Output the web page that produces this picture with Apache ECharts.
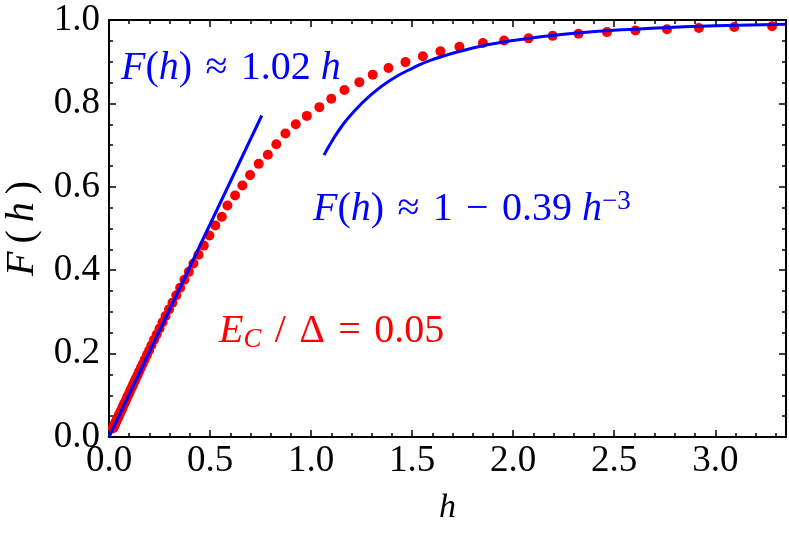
<!DOCTYPE html>
<html>
<head>
<meta charset="utf-8">
<script src="https://cdn.jsdelivr.net/npm/echarts@6/dist/echarts.min.js"></script>
<style>
  html, body { margin: 0; padding: 0; background: #fff; }
  #chart { width: 789px; height: 539px; }
</style>
</head>
<body>
<div id="chart"></div>
<script>
// red dots: E_C / Δ = 0.05
const hDots = [
  0.020, 0.021, 0.022, 0.024, 0.025, 0.027, 0.028, 0.030, 0.032, 0.034,
  0.036, 0.038, 0.040, 0.042, 0.045, 0.047, 0.050, 0.053, 0.056, 0.060,
  0.063, 0.067, 0.071, 0.075, 0.079, 0.084, 0.089, 0.094, 0.100, 0.106,
  0.112, 0.119, 0.126, 0.133, 0.141, 0.149, 0.158, 0.167, 0.177, 0.188,
  0.199, 0.210, 0.223, 0.236, 0.250, 0.265, 0.280, 0.297, 0.314, 0.333,
  0.352, 0.373, 0.395, 0.418, 0.443, 0.469, 0.497, 0.526,
  0.558, 0.586, 0.624, 0.660, 0.698, 0.741, 0.786, 0.828, 0.873, 0.924,
  0.979, 1.041, 1.100, 1.165, 1.239, 1.305, 1.383, 1.467, 1.553, 1.640,
  1.734, 1.850, 1.955, 2.076, 2.195, 2.323, 2.464, 2.605, 2.761, 2.919,
  3.094, 3.281
];
const fDots = [
  0.021, 0.022, 0.023, 0.025, 0.026, 0.028, 0.030, 0.032, 0.034, 0.036,
  0.038, 0.040, 0.042, 0.044, 0.047, 0.050, 0.053, 0.056, 0.059, 0.063,
  0.066, 0.071, 0.075, 0.079, 0.083, 0.088, 0.094, 0.099, 0.105, 0.112,
  0.118, 0.125, 0.133, 0.140, 0.148, 0.157, 0.166, 0.175, 0.186, 0.197,
  0.208, 0.220, 0.233, 0.246, 0.260, 0.275, 0.290, 0.306, 0.322, 0.340,
  0.358, 0.377, 0.396, 0.416, 0.437, 0.459, 0.483, 0.507,
  0.528, 0.555, 0.579, 0.603, 0.628, 0.655, 0.677, 0.702, 0.728, 0.750,
  0.770, 0.791, 0.811, 0.832, 0.851, 0.869, 0.885, 0.899, 0.913, 0.925,
  0.936, 0.945, 0.951, 0.956, 0.962, 0.967, 0.971, 0.975, 0.978, 0.981,
  0.983, 0.985
];

// blue fits
const hLinear = [0, 0.756];
const fLinear = [0, 0.771];
const hTail = [1.064, 1.1, 1.15, 1.2, 1.3, 1.4, 1.5, 1.6, 1.8, 2.0, 2.3, 2.6, 3.0, 3.35];
const fTail = [0.676, 0.707, 0.744, 0.774, 0.822, 0.858, 0.884, 0.905, 0.933, 0.951, 0.968, 0.978, 0.986, 0.990];

const X_MAX = 3.35;
const X_MAJOR = 0.5, X_MINOR = 0.1;
const Y_MAJOR = 0.2;

const SERIF = 'Liberation Serif';
const RED = '#ff0000', BLUE = '#0000ff';
const SP = '\u2004'; // slightly wider gap around operators, like the original

const zip = (xs, ys) => xs.map((x, i) => [x, ys[i]]);

function xAxis(pos, step, len, withLabel) {
  return {
    type: 'value', gridIndex: 0, position: pos,
    min: 0, max: X_MAX, interval: step,
    axisLine: { show: true, onZero: false, lineStyle: { color: '#000', width: 2 } },
    axisTick: { show: true, inside: true, length: len, lineStyle: { color: '#000', width: 1.5 } },
    axisLabel: {
      show: withLabel, margin: 6, showMaxLabel: false,
      color: '#000', fontFamily: SERIF, fontSize: 37,
      formatter: (v) => v.toFixed(1),
    },
    splitLine: { show: false },
  };
}

function yAxis(pos, withLabel) {
  return {
    type: 'value', position: pos,
    min: 0, max: 1, interval: Y_MAJOR,
    axisLine: { show: true, onZero: false, lineStyle: { color: '#000', width: 2 } },
    axisTick: { show: true, inside: true, length: 7, lineStyle: { color: '#000', width: 1.5 } },
    minorTick: { show: true, splitNumber: 4, length: 4, lineStyle: { color: '#000', width: 1.5 } },
    axisLabel: {
      show: withLabel, margin: 9,
      color: '#000', fontFamily: SERIF, fontSize: 37,
      formatter: (v) => v.toFixed(1),
    },
    splitLine: { show: false },
  };
}

const bottomMajor = Object.assign(xAxis('bottom', X_MAJOR, 7, true), {
  name: 'h', nameLocation: 'middle', nameGap: 54,
  nameTextStyle: { color: '#000', fontFamily: SERIF, fontSize: 34, fontStyle: 'italic' },
});
const leftAxis = Object.assign(yAxis('left', true), {
  name: '{i|F}\u2009(\u2009{i|h}\u2009)', nameLocation: 'middle', nameGap: 64,
  nameTextStyle: {
    color: '#000', fontFamily: SERIF, fontSize: 40,
    rich: { i: { fontStyle: 'italic', fontFamily: SERIF, fontSize: 40, color: '#000' } },
  },
});

const big = 40, small = 27;
const rich = (fill) => ({
  i: { fontStyle: 'italic', fontFamily: SERIF, fontSize: big, fill },
  n: { fontFamily: SERIF, fontSize: big, fill },
  sub: { fontStyle: 'italic', fontFamily: SERIF, fontSize: small, fill, padding: [17, 0, 0, 0] },
  sup: { fontFamily: SERIF, fontSize: small, fill, padding: [0, 0, 15, 0] },
});

const chart = echarts.init(document.getElementById('chart'), null, { renderer: 'canvas' });
chart.setOption({
  animation: false,
  backgroundColor: '#fff',
  grid: { left: 109, right: 3, top: 20, bottom: 102, outerBoundsMode: 'none' },
  xAxis: [
    bottomMajor,
    xAxis('bottom', X_MINOR, 4, false),
    xAxis('top', X_MAJOR, 7, false),
    xAxis('top', X_MINOR, 4, false),
  ],
  yAxis: [leftAxis, yAxis('right', false)],
  series: [
    {
      type: 'scatter', xAxisIndex: 0, yAxisIndex: 0,
      symbol: 'circle', symbolSize: 10,
      itemStyle: { color: RED, opacity: 1 },
      data: zip(hDots, fDots),
    },
    {
      type: 'line', xAxisIndex: 0, yAxisIndex: 0,
      showSymbol: false, lineStyle: { color: BLUE, width: 3 },
      data: zip(hLinear, fLinear),
    },
    {
      type: 'line', xAxisIndex: 0, yAxisIndex: 0, smooth: true,
      showSymbol: false, lineStyle: { color: BLUE, width: 3 },
      data: zip(hTail, fTail),
    },
  ],
  graphic: [
    {
      type: 'text', x: 121, y: 68,
      style: {
        text: '{i|F}{n|(}{i|h}{n|)' + SP + '≈' + SP + '1.02 }{i|h}',
        rich: rich(BLUE), verticalAlign: 'middle', align: 'left',
      },
    },
    {
      type: 'text', x: 313, y: 209,
      style: {
        text: '{i|F}{n|(}{i|h}{n|)' + SP + '≈' + SP + '1' + SP + '−' + SP + '0.39 }{i|h}{sup|−3}',
        rich: rich(BLUE), verticalAlign: 'middle', align: 'left',
      },
    },
    {
      type: 'text', x: 219, y: 331,
      style: {
        text: '{i|E}{sub|C}{n|' + SP + '/' + SP + 'Δ' + SP + '=' + SP + '0.05}',
        rich: rich(RED), verticalAlign: 'middle', align: 'left',
      },
    },
  ],
});
</script>
</body>
</html>
